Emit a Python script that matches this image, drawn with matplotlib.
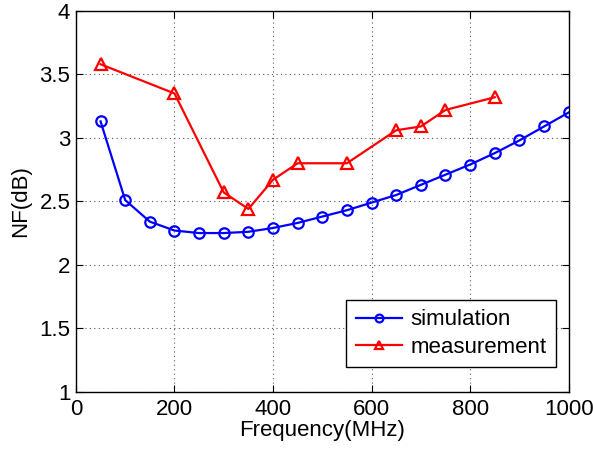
import matplotlib
matplotlib.use("Agg")
import matplotlib.pyplot as plt

plt.rcParams['font.family'] = ['Liberation Sans', 'DejaVu Sans']

sim_freq = [50, 100, 150, 200, 250, 300, 350, 400, 450, 500, 550, 600, 650, 700, 750, 800, 850, 900, 950, 1000]
sim_nf = [3.13, 2.51, 2.34, 2.27, 2.25, 2.25, 2.26, 2.29, 2.33, 2.38, 2.43, 2.49, 2.55, 2.63, 2.71, 2.79, 2.88, 2.98, 3.09, 3.20]
meas_freq = [50, 200, 300, 350, 400, 450, 550, 650, 700, 750, 850]
meas_nf = [3.58, 3.35, 2.57, 2.44, 2.67, 2.80, 2.80, 3.06, 3.09, 3.22, 3.32]
xticks = [0, 200, 400, 600, 800, 1000]
yticks = [1, 1.5, 2, 2.5, 3, 3.5, 4]
ytick_labels = ['1', '1.5', '2', '2.5', '3', '3.5', '4']

FS = 16

fig = plt.figure(figsize=(5.93, 4.49), dpi=100)
ax = fig.add_axes([0.128, 0.1276, 0.831, 0.848])

ax.plot(sim_freq, sim_nf, color='#0000ff', lw=1.6, marker='o', ms=7.5,
        mfc='none', mew=1.6, label='simulation')
ax.plot(meas_freq, meas_nf, color='#ff0000', lw=1.6, marker='^', ms=8.5,
        mfc='none', mew=1.6, label='measurement')

ax.set_xlim(0, 1000)
ax.set_ylim(1, 4)
ax.set_xticks(xticks)
ax.set_yticks(yticks)
ax.set_yticklabels(ytick_labels)
ax.tick_params(direction='in', top=True, right=True, labelsize=FS, length=5)
ax.tick_params(axis='x', pad=5)
ax.tick_params(axis='y', pad=4)
ax.grid(True, linestyle=(0, (1, 3)), color='#555555', linewidth=0.8)
for s in ax.spines.values():
    s.set_linewidth(1.0)

ax.set_xlabel('Frequency(MHz)', fontsize=FS, labelpad=0)
ax.set_ylabel('NF(dB)', fontsize=FS, labelpad=6)

leg = ax.legend(loc='lower right', bbox_to_anchor=(0.9735, 0.064), fontsize=FS,
                fancybox=False, framealpha=1, edgecolor='black',
                handlelength=2.1, borderpad=0.42, labelspacing=0.3, handletextpad=0.35,
                borderaxespad=0, markerscale=0.75)
leg.get_frame().set_linewidth(1.0)

fig.savefig('out.png', dpi=100)
